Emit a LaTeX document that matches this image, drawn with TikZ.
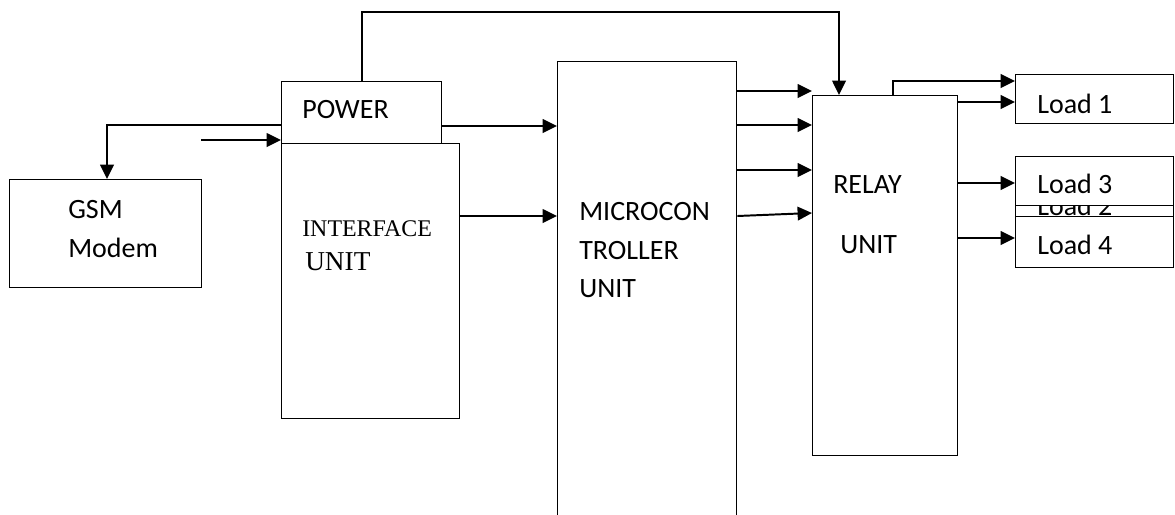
\documentclass[tikz,border=0pt]{standalone}
\usepackage{fontspec}
\setmainfont{Carlito}
\newfontfamily\timesfont{Liberation Serif}
\usetikzlibrary{arrows.meta,calc}
\def\pxu{0.025cm}

\begin{document}
\begin{tikzpicture}[x=0.025cm, y=-0.025cm,
    box/.style={draw, line width=1pt, fill=white, anchor=north west, inner sep=0pt},
    arr/.style={-{Triangle[length=3.6mm, width=3.4mm]}, line width=1.4pt},
    lbl/.style={anchor=base west, inner sep=0pt, font=\fontsize{19.9}{24}\selectfont}]
  \clip (0,0) rectangle (1175,514);
  \fill[white] (0,0) rectangle (1175,514);
  % Blocks
  \node[box, minimum width=192*\pxu, minimum height=108*\pxu] (gsm)   at (9,179)   {};
  \node[box, minimum width=160*\pxu, minimum height=62*\pxu]  (pwr)   at (281,81)  {};
  \node[box, minimum width=178*\pxu, minimum height=275*\pxu] (intf)  at (281,143) {};
  \node[box, minimum width=179*\pxu, minimum height=480*\pxu] (mcu)   at (557,61)  {};
  \node[box, minimum width=145*\pxu, minimum height=360*\pxu] (relay) at (812,95)  {};
  % Loads (Load 2 sits behind Load 3 and Load 4)
  \node[box, minimum width=158*\pxu, minimum height=49*\pxu]  (load1) at (1015,74)  {};
  \node[box, minimum width=158*\pxu, minimum height=50*\pxu]  (load2) at (1015,170) {};
  \node[lbl] (load2txt) at (1037,215) {Load 2};
  \node[box, minimum width=158*\pxu, minimum height=49*\pxu]  (load3) at (1015,156) {};
  \node[box, minimum width=158*\pxu, minimum height=51*\pxu]  (load4) at (1015,216) {};
  % Texts
  \node[lbl] (gsmtxt)   at (68,218)  {GSM};
  \node[lbl] (modemtxt) at (68,257)  {Modem};
  \node[lbl] (pwrtxt)   at (302,118) {POWER};
  \node[lbl, font=\timesfont\fontsize{17}{20}\selectfont]   (intftxt) at (302,236) {INTERFACE};
  \node[lbl, font=\timesfont\fontsize{19.4}{23}\selectfont] (iunittxt) at (305,270) {UNIT};
  \node[lbl] (mcutxtA)  at (579,220) {MICROCON};
  \node[lbl] (mcutxtB)  at (579,259) {TROLLER};
  \node[lbl] (mcutxtC)  at (579,297) {UNIT};
  \node[lbl] (relaytxt) at (833,193) {RELAY};
  \node[lbl] (runittxt) at (840,253) {UNIT};
  \node[lbl] (load1txt) at (1037,113) {Load 1};
  \node[lbl] (load3txt) at (1037,193) {Load 3};
  \node[lbl] (load4txt) at (1037,254) {Load 4};
  % Connectors
  \coordinate (top) at (600,12);
  \coordinate (in) at (201,140);
  \draw[arr] (pwr.north -| 362,0) |- (top) -| (relay.north -| 839,0);
  \draw[arr] (pwr.west |- 0,125) -| (gsm.north -| 107,0);
  \draw[arr] (in) -- (pwr.west |- in);
  \draw[arr] (pwr.east |- 0,126) -- (mcu.west |- 0,126);
  \draw[arr] (intf.east |- 0,216) -- (mcu.west |- 0,216);
  \foreach \y in {91,125,170}
    \draw[arr] (mcu.east |- 0,\y) -- (relay.west |- 0,\y);
  \draw[arr] (mcu.east |- 0,216) -- (relay.west |- 0,213);
  \draw[arr] (relay.north -| 893,0) |- (load1.west |- 0,81);
  \foreach \y/\t in {102/load1,183/load3,238/load4}
    \draw[arr] (relay.east |- 0,\y) -- (\t.west |- 0,\y);
\end{tikzpicture}
\end{document}
